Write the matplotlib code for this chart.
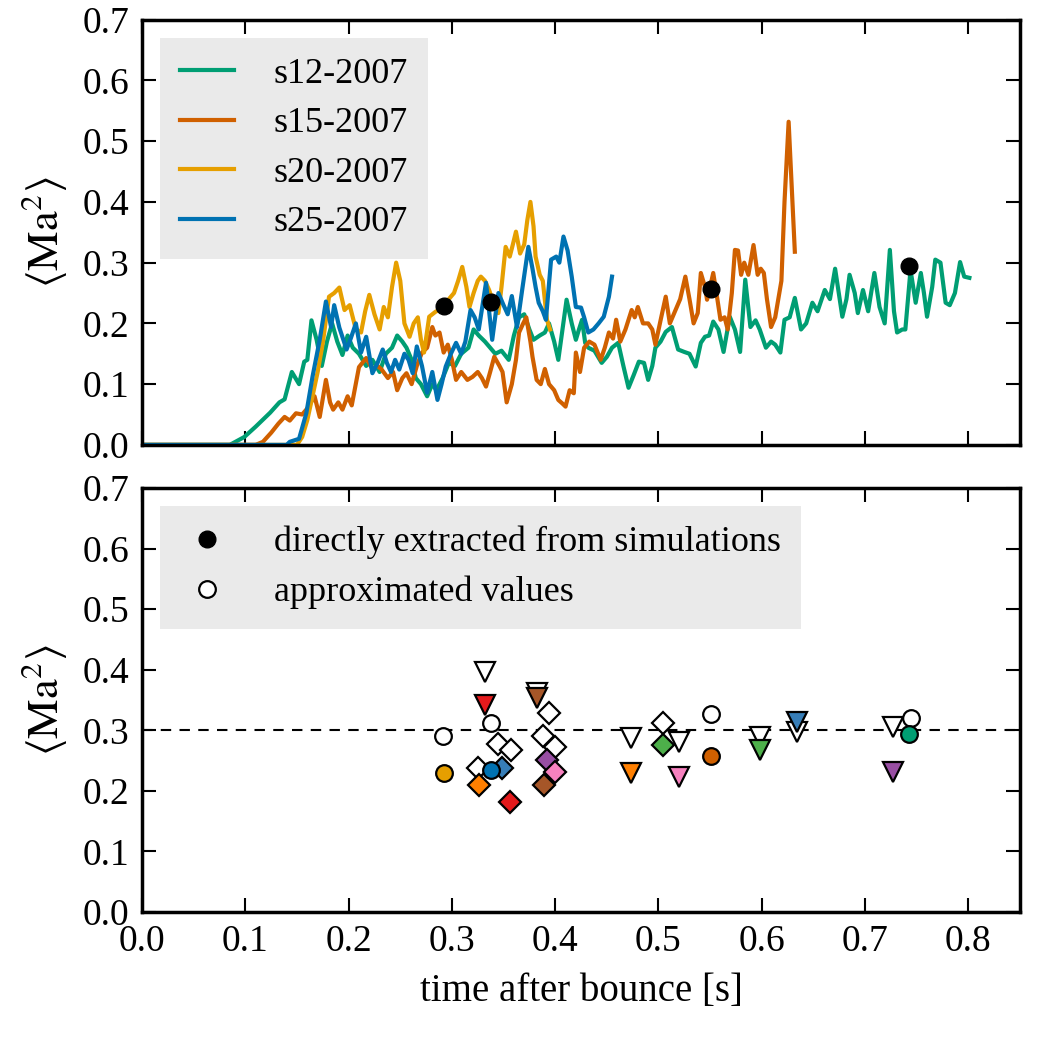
import matplotlib
matplotlib.use("Agg")
import matplotlib.pyplot as plt
from matplotlib.lines import Line2D

plt.rcParams['font.family'] = ['Liberation Serif', 'DejaVu Serif']
plt.rcParams['mathtext.fontset'] = 'stix'
plt.rcParams['font.size'] = 26

# ---- top panel: <Ma^2> time series ----
t_s12 = [0.0, 0.085, 0.099, 0.11, 0.124, 0.133, 0.138, 0.145, 0.152, 0.157, 0.160, 0.164, 0.169,
         0.174, 0.179, 0.184, 0.189, 0.194, 0.199, 0.204, 0.210, 0.217, 0.223, 0.230, 0.236, 0.242,
         0.247, 0.252, 0.256, 0.261, 0.265, 0.270, 0.276, 0.281, 0.285, 0.291, 0.297, 0.303, 0.309,
         0.316, 0.321, 0.326, 0.332, 0.337, 0.342, 0.348, 0.355, 0.360, 0.365, 0.370, 0.375, 0.379,
         0.385, 0.390, 0.394, 0.399, 0.403, 0.407, 0.411, 0.416, 0.420, 0.423, 0.426, 0.429, 0.432,
         0.438, 0.445, 0.450, 0.455, 0.461, 0.466, 0.471, 0.476, 0.481, 0.486, 0.490, 0.494, 0.497,
         0.502, 0.507, 0.513, 0.519, 0.525, 0.530, 0.536, 0.541, 0.545, 0.549, 0.553, 0.558, 0.563,
         0.569, 0.574, 0.579, 0.584, 0.589, 0.594, 0.598, 0.604, 0.609, 0.613, 0.618, 0.622, 0.627,
         0.632, 0.638, 0.643, 0.649, 0.654, 0.661, 0.666, 0.671, 0.678, 0.682, 0.685, 0.690, 0.693,
         0.698, 0.703, 0.709, 0.714, 0.719, 0.724, 0.728, 0.731, 0.736, 0.739, 0.744, 0.749, 0.754,
         0.757, 0.760, 0.765, 0.768, 0.773, 0.778, 0.782, 0.787, 0.792, 0.796, 0.801]
v_s12 = [0.0, 0.0, 0.013, 0.03, 0.053, 0.07, 0.075, 0.12, 0.10, 0.137, 0.14, 0.205, 0.173,
         0.13, 0.17, 0.20, 0.17, 0.148, 0.18, 0.16, 0.15, 0.13, 0.14, 0.12, 0.15, 0.16,
         0.18, 0.17, 0.16, 0.14, 0.11, 0.10, 0.08, 0.10, 0.09, 0.11, 0.135, 0.13, 0.15,
         0.16, 0.19, 0.18, 0.17, 0.16, 0.15, 0.155, 0.14, 0.18, 0.21, 0.215, 0.19, 0.173,
         0.18, 0.185, 0.20, 0.17, 0.14, 0.19, 0.239, 0.20, 0.173, 0.19, 0.206, 0.168, 0.16,
         0.155, 0.135, 0.145, 0.16, 0.168, 0.13, 0.094, 0.115, 0.137, 0.135, 0.107, 0.13, 0.16,
         0.17, 0.186, 0.194, 0.157, 0.153, 0.15, 0.129, 0.168, 0.178, 0.18, 0.203, 0.19, 0.153,
         0.211, 0.19, 0.153, 0.272, 0.194, 0.205, 0.19, 0.16, 0.17, 0.165, 0.152, 0.206, 0.21,
         0.242, 0.19, 0.20, 0.234, 0.22, 0.255, 0.24, 0.29, 0.211, 0.24, 0.28, 0.25, 0.217,
         0.255, 0.22, 0.283, 0.227, 0.20, 0.321, 0.22, 0.185, 0.19, 0.19, 0.288, 0.234, 0.283,
         0.25, 0.211, 0.26, 0.305, 0.30, 0.234, 0.23, 0.25, 0.301, 0.277, 0.275]

t_s15 = [0.0, 0.11, 0.117, 0.125, 0.132, 0.138, 0.143, 0.149, 0.155, 0.160, 0.167, 0.172, 0.178,
         0.182, 0.185, 0.190, 0.194, 0.199, 0.203, 0.210, 0.217, 0.223, 0.228, 0.232, 0.238, 0.243,
         0.247, 0.252, 0.256, 0.261, 0.266, 0.271, 0.276, 0.281, 0.284, 0.288, 0.292, 0.296, 0.300,
         0.304, 0.309, 0.315, 0.320, 0.325, 0.329, 0.333, 0.337, 0.341, 0.346, 0.349, 0.353, 0.358,
         0.362, 0.365, 0.369, 0.372, 0.376, 0.378, 0.382, 0.386, 0.390, 0.394, 0.399, 0.403, 0.407,
         0.410, 0.414, 0.418, 0.420, 0.424, 0.428, 0.433, 0.438, 0.444, 0.448, 0.452, 0.456, 0.459,
         0.463, 0.468, 0.474, 0.477, 0.480, 0.485, 0.490, 0.494, 0.497, 0.502, 0.507, 0.511, 0.516,
         0.521, 0.526, 0.530, 0.534, 0.538, 0.541, 0.545, 0.547, 0.550, 0.553, 0.557, 0.560, 0.564,
         0.567, 0.571, 0.574, 0.577, 0.580, 0.583, 0.587, 0.592, 0.596, 0.599, 0.602, 0.605, 0.609,
         0.613, 0.616, 0.619, 0.622, 0.626, 0.628, 0.632]
v_s15 = [0.0, 0.0, 0.005, 0.02, 0.035, 0.046, 0.04, 0.052, 0.05, 0.06, 0.08, 0.046, 0.107,
         0.07, 0.058, 0.07, 0.058, 0.08, 0.065, 0.128, 0.143, 0.125, 0.13, 0.124, 0.11, 0.12,
         0.09, 0.11, 0.118, 0.10, 0.13, 0.152, 0.16, 0.194, 0.18, 0.185, 0.152, 0.165, 0.14,
         0.107, 0.12, 0.107, 0.112, 0.12, 0.11, 0.096, 0.12, 0.145, 0.13, 0.12, 0.07, 0.10,
         0.14, 0.185, 0.20, 0.21, 0.17, 0.145, 0.107, 0.10, 0.125, 0.10, 0.09, 0.074, 0.068,
         0.063, 0.09, 0.085, 0.152, 0.12, 0.16, 0.17, 0.165, 0.14, 0.16, 0.185, 0.175, 0.206,
         0.17, 0.19, 0.222, 0.21, 0.227, 0.20, 0.20, 0.19, 0.165, 0.205, 0.244, 0.20, 0.22,
         0.24, 0.277, 0.24, 0.20, 0.217, 0.283, 0.26, 0.239, 0.26, 0.283, 0.24, 0.206, 0.21,
         0.19, 0.25, 0.321, 0.32, 0.28, 0.30, 0.28, 0.329, 0.28, 0.29, 0.283, 0.24, 0.194,
         0.21, 0.24, 0.27, 0.40, 0.532, 0.46, 0.318]

t_s20 = [0.0, 0.15, 0.155, 0.160, 0.165, 0.170, 0.175, 0.181, 0.186, 0.191, 0.196, 0.201, 0.207,
         0.212, 0.216, 0.220, 0.225, 0.230, 0.234, 0.238, 0.242, 0.246, 0.250, 0.254, 0.259, 0.263,
         0.267, 0.270, 0.273, 0.278, 0.284, 0.292, 0.297, 0.302, 0.306, 0.310, 0.314, 0.317, 0.321,
         0.325, 0.328, 0.332, 0.336, 0.341, 0.345, 0.348, 0.352, 0.356, 0.359, 0.362, 0.366, 0.370,
         0.373, 0.376, 0.379, 0.381, 0.385, 0.388, 0.392, 0.395]
v_s20 = [0.0, 0.0, 0.013, 0.041, 0.08, 0.12, 0.168, 0.244, 0.25, 0.259, 0.222, 0.23, 0.19,
         0.185, 0.22, 0.247, 0.215, 0.19, 0.227, 0.21, 0.26, 0.30, 0.27, 0.20, 0.178, 0.20,
         0.21, 0.173, 0.152, 0.211, 0.219, 0.227, 0.24, 0.25, 0.27, 0.293, 0.26, 0.227, 0.25,
         0.27, 0.277, 0.27, 0.255, 0.23, 0.217, 0.26, 0.326, 0.31, 0.33, 0.351, 0.315, 0.33,
         0.37, 0.40, 0.36, 0.31, 0.28, 0.27, 0.206, 0.19]

t_s25 = [0.0, 0.14, 0.143, 0.152, 0.159, 0.165, 0.172, 0.178, 0.183, 0.186, 0.191, 0.198, 0.202,
         0.207, 0.212, 0.217, 0.223, 0.228, 0.233, 0.237, 0.241, 0.245, 0.249, 0.254, 0.258, 0.262,
         0.266, 0.271, 0.276, 0.281, 0.286, 0.290, 0.294, 0.299, 0.304, 0.309, 0.313, 0.318, 0.322,
         0.326, 0.333, 0.336, 0.339, 0.345, 0.350, 0.354, 0.358, 0.363, 0.368, 0.374, 0.378, 0.381,
         0.384, 0.388, 0.391, 0.396, 0.401, 0.404, 0.408, 0.412, 0.416, 0.420, 0.425, 0.428, 0.432,
         0.437, 0.442, 0.447, 0.452, 0.455]
v_s25 = [0.0, 0.0, 0.005, 0.01, 0.052, 0.112, 0.173, 0.236, 0.194, 0.23, 0.193, 0.157, 0.175,
         0.20, 0.152, 0.178, 0.118, 0.135, 0.157, 0.135, 0.12, 0.14, 0.124, 0.15, 0.14, 0.118,
         0.162, 0.13, 0.086, 0.12, 0.074, 0.10, 0.129, 0.15, 0.168, 0.15, 0.17, 0.222, 0.21,
         0.19, 0.267, 0.22, 0.173, 0.25, 0.23, 0.215, 0.245, 0.194, 0.255, 0.326, 0.29, 0.26,
         0.234, 0.22, 0.206, 0.305, 0.31, 0.30, 0.343, 0.32, 0.277, 0.227, 0.226, 0.21, 0.185,
         0.19, 0.20, 0.211, 0.244, 0.277]

model_names = ['s12-2007', 's15-2007', 's20-2007', 's25-2007']
model_colors = ['#009E73', '#D06000', '#E69F00', '#0072B2']

# values directly extracted from the simulations (black dots / coloured circles)
t_direct = [0.292, 0.338, 0.551, 0.743]
v_direct = [0.229, 0.235, 0.257, 0.294]
c_direct = ['#E69F00', '#0072B2', '#D06000', '#009E73']

# ---- bottom panel: other models ----
# approximated values (open markers) and their coloured counterparts
t_open_circ = [0.291, 0.338, 0.551, 0.744]
v_open_circ = [0.290, 0.312, 0.327, 0.320]

t_open_dia = [0.345, 0.357, 0.325, 0.394, 0.388, 0.400, 0.504]
v_open_dia = [0.277, 0.267, 0.238, 0.328, 0.290, 0.272, 0.312]

t_open_tri = [0.332, 0.382, 0.473, 0.520, 0.598, 0.634, 0.727]
v_open_tri = [0.396, 0.362, 0.287, 0.281, 0.289, 0.297, 0.305]

t_fill_dia = [0.348, 0.326, 0.356, 0.392, 0.400, 0.389, 0.504]
v_fill_dia = [0.238, 0.210, 0.182, 0.251, 0.231, 0.210, 0.276]
c_fill_dia = ['#377EB8', '#FF7F00', '#E41A1C', '#984EA3', '#F781BF', '#A65628', '#4DAF4A']

t_fill_tri = [0.332, 0.382, 0.473, 0.520, 0.598, 0.634, 0.727]
v_fill_tri = [0.342, 0.354, 0.229, 0.223, 0.267, 0.314, 0.231]
c_fill_tri = ['#E41A1C', '#A65628', '#FF7F00', '#F781BF', '#4DAF4A', '#377EB8', '#984EA3']

fig = plt.figure(figsize=(10.37, 10.37), dpi=100)
ax1 = fig.add_axes([0.137, 0.571, 0.8466, 0.41])
ax2 = fig.add_axes([0.137, 0.1205, 0.8466, 0.4089])

series = [(t_s12, v_s12), (t_s15, v_s15), (t_s20, v_s20), (t_s25, v_s25)]
for (t, v), name, col in zip(series, model_names, model_colors):
    ax1.plot(t, v, color=col, lw=3.0, label=name)
ax1.plot(t_direct, v_direct, 'o', color='k', ms=12, zorder=5)

leg1 = ax1.legend(loc='upper left', fontsize=26, handlelength=1.5, handletextpad=1.1,
                  labelspacing=0.45, borderpad=0.55, borderaxespad=0.5, fancybox=False)
leg1.get_frame().set_facecolor('#e5e5e5')
leg1.get_frame().set_edgecolor('none')

# bottom panel
ax2.axhline(0.3, color='k', ls='--', lw=1.5, dashes=(5, 4), zorder=1)
ax2.plot(t_open_tri, v_open_tri, 'v', mfc='white', mec='k', mew=1.6, ms=14, ls='', zorder=2)
for t, v, c in zip(t_fill_tri, v_fill_tri, c_fill_tri):
    ax2.plot(t, v, 'v', mfc=c, mec='k', mew=1.6, ms=14, zorder=3)
ax2.plot(t_open_dia, v_open_dia, 'D', mfc='white', mec='k', mew=1.6, ms=11.5, ls='', zorder=2)
for t, v, c in zip(t_fill_dia, v_fill_dia, c_fill_dia):
    ax2.plot(t, v, 'D', mfc=c, mec='k', mew=1.6, ms=11.5, zorder=3)
ax2.plot(t_open_circ, v_open_circ, 'o', mfc='white', mec='k', mew=1.6, ms=12, ls='', zorder=4)
for t, v, c in zip(t_direct, v_direct, c_direct):
    ax2.plot(t, v, 'o', mfc=c, mec='k', mew=1.6, ms=12, zorder=4)

handles = [Line2D([], [], ls='', marker='o', mfc='k', mec='k', ms=12),
           Line2D([], [], ls='', marker='o', mfc='white', mec='k', mew=1.6, ms=12)]
leg2 = ax2.legend(handles, ['directly extracted from simulations', 'approximated values'],
                  loc='upper left', fontsize=26, handlelength=1.5, handletextpad=1.1,
                  labelspacing=0.45, borderpad=0.55, borderaxespad=0.5, numpoints=1,
                  fancybox=False)
leg2.get_frame().set_facecolor('#e5e5e5')
leg2.get_frame().set_edgecolor('none')

for ax in (ax1, ax2):
    ax.set_xlim(0, 0.85)
    ax.set_ylim(0, 0.7)
    ax.set_xticks([0.0, 0.1, 0.2, 0.3, 0.4, 0.5, 0.6, 0.7, 0.8])
    ax.set_yticks([0.0, 0.1, 0.2, 0.3, 0.4, 0.5, 0.6, 0.7])
    ax.yaxis.set_major_formatter(plt.FormatStrFormatter('%.1f'))
    ax.xaxis.set_major_formatter(plt.FormatStrFormatter('%.1f'))
    ax.tick_params(direction='in', length=10, width=1.5, top=True, right=True,
                   labelsize=27, pad=9)
    for sp in ax.spines.values():
        sp.set_linewidth(2.5)
    ax.set_ylabel(r'$\langle\mathrm{Ma}^2\rangle$', fontsize=32, labelpad=10)

ax1.tick_params(labelbottom=False)
ax2.set_xlabel('time after bounce [s]', fontsize=28, labelpad=10)

fig.savefig('out.png', dpi=100)
